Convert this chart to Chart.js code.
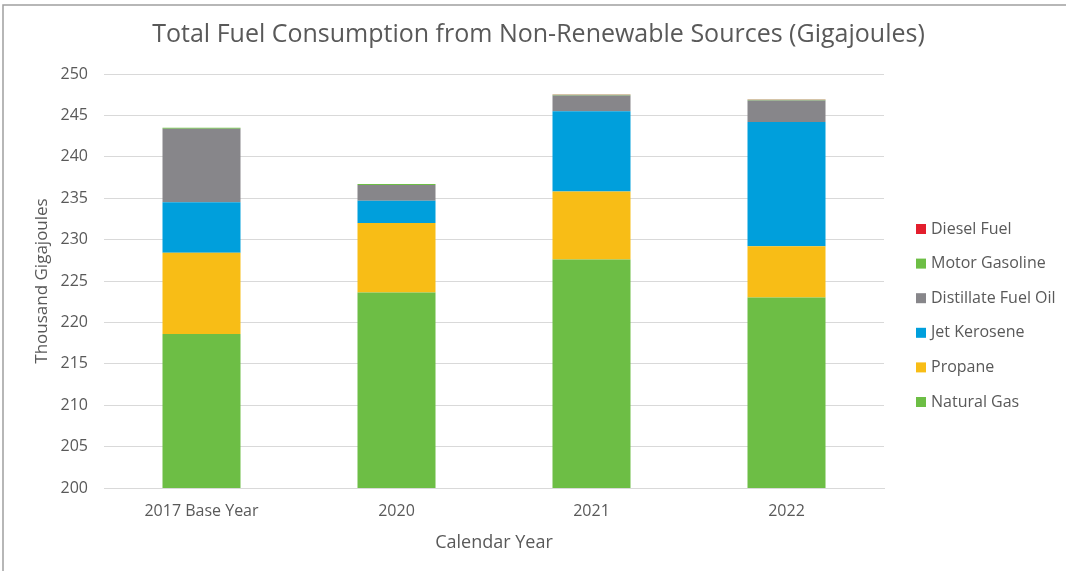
<!DOCTYPE html>
<html>
<head>
<meta charset="utf-8">
<script src="https://cdn.jsdelivr.net/npm/chart.js@4.4.1/dist/chart.umd.min.js"></script>
<style>
  html, body { margin: 0; padding: 0; background: #fff; }
  #wrap { width: 1066px; height: 571px; position: relative; }
</style>
</head>
<body>
<div id="wrap"><canvas id="c" width="1066" height="571"></canvas></div>
<script>
const categories = ['2017 Base Year', '2020', '2021', '2022'];
const naturalGas = [218.6, 223.6, 227.6, 223.0];
const propane = [9.8, 8.4, 8.2, 6.2];
const jetKerosene = [6.1, 2.7, 9.7, 15.0];
const distillateFuelOil = [8.9, 1.9, 1.9, 2.6];
const motorGasoline = [0.1, 0.1, 0.1, 0.1];
const dieselFuel = [0.02, 0.02, 0.02, 0.02];
const yTicks = [200, 205, 210, 215, 220, 225, 230, 235, 240, 245, 250];

const TXT = '#595959';
const FONT = "'Open Sans', sans-serif";

const borderPlugin = {
  id: 'frame',
  beforeDraw(chart) {
    const ctx = chart.ctx;
    ctx.save();
    ctx.fillStyle = '#fff';
    ctx.fillRect(0, 0, chart.width, chart.height);
    ctx.strokeStyle = '#A0A0A0';
    ctx.lineWidth = 1.5;
    ctx.beginPath();
    ctx.moveTo(3, chart.height);
    ctx.lineTo(3, 5);
    ctx.lineTo(chart.width, 5);
    ctx.stroke();
    ctx.restore();
  }
};

const legendPlugin = {
  id: 'sideLegend',
  afterDraw(chart) {
    const ctx = chart.ctx;
    const ds = chart.data.datasets.slice().reverse();
    ctx.save();
    ctx.font = '16px ' + FONT;
    ctx.textBaseline = 'middle';
    ctx.textAlign = 'left';
    ds.forEach((d, i) => {
      const y = 229 + i * 34.6;
      ctx.fillStyle = d.backgroundColor;
      ctx.fillRect(916, y - 5, 10, 10);
      ctx.fillStyle = TXT;
      ctx.fillText(d.label, 931, y);
    });
    ctx.restore();
  }
};

new Chart(document.getElementById('c'), {
  type: 'bar',
  data: {
    labels: categories,
    datasets: [
      { label: 'Natural Gas', data: naturalGas, backgroundColor: '#6DBE45' },
      { label: 'Propane', data: propane, backgroundColor: '#F8BD16' },
      { label: 'Jet Kerosene', data: jetKerosene, backgroundColor: '#009FDC' },
      { label: 'Distillate Fuel Oil', data: distillateFuelOil, backgroundColor: '#87868A' },
      { label: 'Motor Gasoline', data: motorGasoline, backgroundColor: '#6DBE45' },
      { label: 'Diesel Fuel', data: dieselFuel, backgroundColor: '#E31E2D' }
    ]
  },
  options: {
    responsive: false,
    animation: false,
    events: [],
    layout: { padding: { left: 11, right: 0, top: 5, bottom: 0 } },
    datasets: { bar: { categoryPercentage: 1, barPercentage: 0.4 } },
    plugins: {
      legend: { display: false },
      tooltip: { enabled: false },
      title: {
        display: true,
        text: 'Total Fuel Consumption from Non-Renewable Sources (Gigajoules)',
        color: TXT,
        font: { family: FONT, size: 25, weight: 'normal', lineHeight: 1.2 },
        padding: { top: 15, bottom: 24 }
      }
    },
    scales: {
      x: {
        stacked: true,
        grid: { display: false, drawTicks: false },
        border: { display: true, color: '#D9D9D9', width: 1 },
        ticks: { color: TXT, font: { family: FONT, size: 16 }, padding: 14, maxRotation: 0 },
        title: {
          display: true, text: 'Calendar Year', color: TXT,
          font: { family: FONT, size: 18, lineHeight: 1.2 },
          padding: { top: 4, bottom: 17 }
        },
        afterFit(scale) { scale.height = 83; }
      },
      y: {
        stacked: true,
        min: 200, max: 250,
        afterBuildTicks(scale) { scale.ticks = yTicks.map(v => ({ value: v })); },
        grid: { color: '#D9D9D9', lineWidth: 1, drawTicks: false },
        border: { display: false },
        ticks: { color: TXT, font: { family: FONT, size: 16 }, padding: 16 },
        title: {
          display: true, text: 'Thousand Gigajoules', color: TXT,
          font: { family: FONT, size: 17, lineHeight: 1.2 },
          padding: { top: 21, bottom: 0 }
        },
        afterFit(scale) { scale.width = 93; }
      },
      legendSpace: {
        type: 'linear',
        position: 'right',
        display: true,
        grid: { display: false, drawTicks: false },
        border: { display: false },
        ticks: { display: false },
        afterFit(scale) { scale.width = 182; }
      }
    }
  },
  plugins: [borderPlugin, legendPlugin]
});
</script>
</body>
</html>
